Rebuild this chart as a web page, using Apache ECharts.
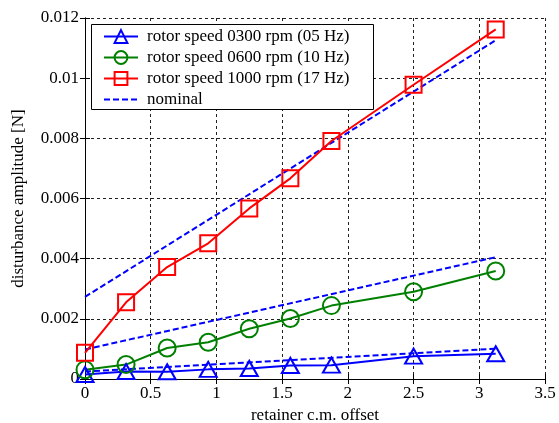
<!DOCTYPE html>
<html>
<head>
<meta charset="utf-8">
<script src="https://cdn.jsdelivr.net/npm/echarts@6/dist/echarts.min.js"></script>
<style>html,body{margin:0;padding:0;background:#fff}#c{width:559px;height:423px}</style>
</head>
<body>
<div id="c"></div>
<script>
const offsets = [0, 0.3125, 0.625, 0.9375, 1.25, 1.5625, 1.875, 2.5, 3.125];
const speed0300 = [0.00015, 0.00025, 0.00024, 0.00032, 0.00035, 0.00045, 0.00046, 0.00076, 0.00084];
const speed0600 = [0.00031, 0.00048, 0.00103, 0.00122, 0.00167, 0.00201, 0.00244, 0.0029, 0.00359];
const speed1000 = [0.00087, 0.00255, 0.00372, 0.00451, 0.00567, 0.00667, 0.00791, 0.00978, 0.01162];
const nominalX = [0, 3.125];
const nominal0300 = [0.00025, 0.00101];
const nominal0600 = [0.00098, 0.00405];
const nominal1000 = [0.00273, 0.01126];
const seriesNames = ['rotor speed 0300 rpm (05 Hz)', 'rotor speed 0600 rpm (10 Hz)', 'rotor speed 1000 rpm (17 Hz)', 'nominal'];
const xTicks = [0, 0.5, 1, 1.5, 2, 2.5, 3, 3.5];
const yTicks = [0, 0.002, 0.004, 0.006, 0.008, 0.01, 0.012];

const FONT = 'Liberation Serif';
const FS = 17;
const zip = (xs, ys) => xs.map((x, i) => [x, ys[i]]);

function measured(name, ys, color, symbol, size) {
  return {
    name, type: 'line', data: zip(offsets, ys),
    symbol, symbolSize: size, showSymbol: true,
    lineStyle: { color, width: 2 },
    itemStyle: { color: 'rgba(0,0,0,0)', borderColor: color, borderWidth: 2 },
    emphasis: { disabled: true }, z: 3, animation: false
  };
}
function nominal(ys) {
  return {
    name: seriesNames[3], type: 'line', data: zip(nominalX, ys),
    symbol: 'none', showSymbol: false,
    lineStyle: { color: '#0000ff', width: 2, type: [6, 3] },
    itemStyle: { color: '#0000ff' },
    emphasis: { disabled: true }, z: 2, animation: false
  };
}

const axisCommon = {
  type: 'value',
  axisLine: { show: true, lineStyle: { color: '#000', width: 1 } },
  axisTick: { show: true, inside: true, length: 5, lineStyle: { color: '#000' } },
};

const chart = echarts.init(document.getElementById('c'), null, { renderer: 'canvas' });
chart.setOption({
  animation: false,
  backgroundColor: '#fff',
  textStyle: { fontFamily: FONT },
  grid: { left: 85, right: 14, top: 18, bottom: 44, show: false, containLabel: false, outerBoundsMode: 'none' },
  xAxis: [
    Object.assign({}, axisCommon, {
      min: xTicks[0], max: xTicks[xTicks.length - 1], interval: 0.5,
      name: 'retainer c.m. offset', nameLocation: 'middle', nameGap: 28,
      nameTextStyle: { fontFamily: FONT, fontSize: FS, color: '#000' },
      axisLabel: { fontFamily: FONT, fontSize: FS, color: '#000', margin: 6, formatter: v => String(v) },
      splitLine: { show: true, lineStyle: { color: '#222', width: 1, type: [3, 3] } }
    }),
    Object.assign({}, axisCommon, {
      position: 'top', min: xTicks[0], max: xTicks[xTicks.length - 1], interval: 0.5,
      axisLabel: { show: false }, splitLine: { show: false }
    })
  ],
  yAxis: [
    Object.assign({}, axisCommon, {
      min: yTicks[0], max: yTicks[yTicks.length - 1], interval: 0.002,
      name: 'disturbance amplitude [N]', nameLocation: 'middle', nameGap: 58,
      nameTextStyle: { fontFamily: FONT, fontSize: FS, color: '#000' },
      axisLabel: { fontFamily: FONT, fontSize: FS, color: '#000', margin: 6,
        formatter: v => { const r = yTicks.find(t => Math.abs(t - v) < 1e-9); return String(r !== undefined ? r : v); } },
      splitLine: { show: true, lineStyle: { color: '#222', width: 1, type: [3, 3] } }
    }),
    Object.assign({}, axisCommon, {
      position: 'right', min: yTicks[0], max: yTicks[yTicks.length - 1], interval: 0.002,
      axisLabel: { show: false }, splitLine: { show: false }
    })
  ],
  legend: {
    show: true, orient: 'vertical', left: 98, top: 23,
    itemWidth: 34, itemHeight: 16, itemGap: 4,
    selectedMode: false,
    textStyle: { fontFamily: FONT, fontSize: FS, color: '#000', lineHeight: 16, padding: [0, 0, 0, 4] },
    data: [seriesNames[0], seriesNames[1], seriesNames[2],
      { name: seriesNames[3], itemStyle: { color: 'rgba(0,0,0,0)', borderWidth: 0, opacity: 0 } }],
    z: 6
  },
  graphic: [{
    type: 'rect', left: 91, top: 24, z: 5,
    shape: { width: 282, height: 85 },
    style: { fill: '#fff', stroke: '#000', lineWidth: 1 }
  }],
  series: [
    measured(seriesNames[0], speed0300, '#0000ff', 'triangle', [17, 15]),
    measured(seriesNames[1], speed0600, '#008000', 'circle', 17),
    measured(seriesNames[2], speed1000, '#ff0000', 'rect', 16),
    nominal(nominal0300),
    nominal(nominal0600),
    nominal(nominal1000)
  ]
});
</script>
</body>
</html>
